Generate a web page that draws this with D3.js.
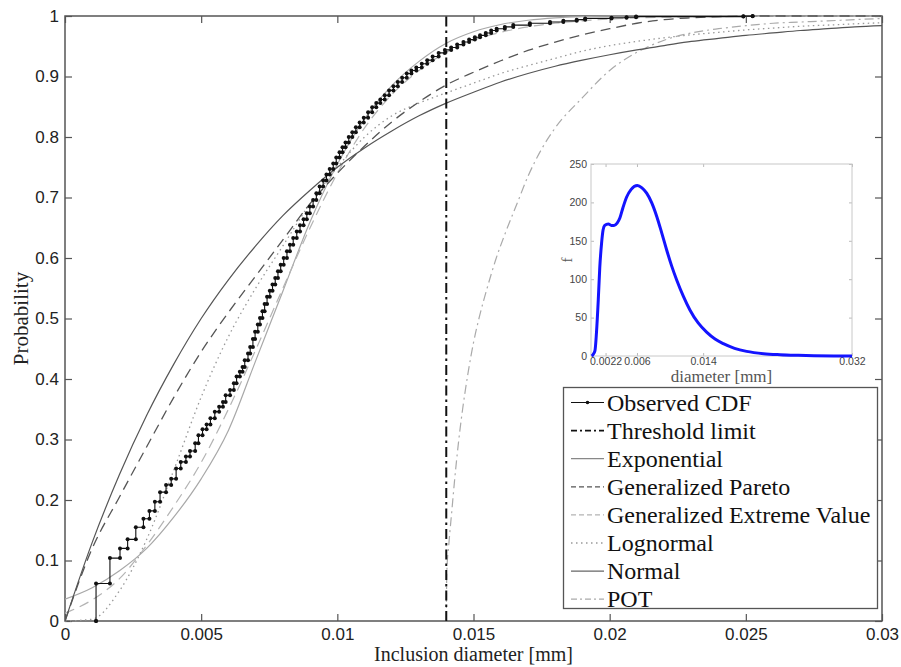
<!DOCTYPE html>
<html>
<head>
<meta charset="utf-8">
<script src="https://cdn.jsdelivr.net/npm/d3@7"></script>
<style>
  body { margin: 0; background: #fff; }
  svg { display: block; }
</style>
</head>
<body>
<svg id="chart" width="901" height="667"></svg>
<script>
const gridX = [0, 0.001, 0.002, 0.003, 0.004, 0.005, 0.006, 0.007, 0.008, 0.009,
  0.01, 0.011, 0.012, 0.013, 0.014, 0.015, 0.016, 0.017, 0.018, 0.019, 0.02,
  0.021, 0.022, 0.023, 0.024, 0.025, 0.026, 0.027, 0.028, 0.029, 0.03];

const exponential = [0, 0.13, 0.242, 0.34, 0.425, 0.5, 0.564, 0.62, 0.67, 0.712,
  0.75, 0.782, 0.81, 0.835, 0.856, 0.874, 0.891, 0.905, 0.917, 0.927, 0.936,
  0.944, 0.951, 0.958, 0.963, 0.968, 0.972, 0.976, 0.979, 0.982, 0.984];
const genPareto = [0, 0.12, 0.205, 0.288, 0.37, 0.445, 0.51, 0.57, 0.63, 0.69,
  0.74, 0.785, 0.825, 0.858, 0.886, 0.907, 0.926, 0.943, 0.957, 0.969, 0.979,
  0.988, 0.994, 0.997, 0.999, 1, 1, 1, 1, 1, 1];
const genExtreme = [0.013, 0.035, 0.07, 0.125, 0.19, 0.262, 0.35, 0.448, 0.55, 0.65,
  0.74, 0.815, 0.87, 0.91, 0.94, 0.96, 0.973, 0.982, 0.988, 0.992, 0.995,
  0.997, 0.998, 0.9985, 0.999, 0.9993, 0.9995, 0.9996, 0.9997, 0.9998, 0.9998];
const lognormal = [0, 0.003, 0.05, 0.135, 0.25, 0.37, 0.47, 0.55, 0.62, 0.69,
  0.75, 0.8, 0.835, 0.856, 0.873, 0.889, 0.905, 0.918, 0.93, 0.942, 0.951,
  0.958, 0.964, 0.969, 0.973, 0.977, 0.98, 0.983, 0.985, 0.987, 0.989];
const normal = [0.036, 0.055, 0.083, 0.12, 0.172, 0.235, 0.315, 0.43, 0.545, 0.66,
  0.755, 0.83, 0.885, 0.925, 0.955, 0.974, 0.986, 0.993, 0.997, 0.999, 1,
  1, 1, 1, 1, 1, 1, 1, 1, 1, 1];

// POT only exists above the threshold
const potX = [0.014, 0.01402, 0.0141, 0.0142, 0.0143, 0.0144, 0.0145, 0.0146,
  0.0148, 0.015, 0.0152, 0.0155, 0.0158, 0.0162, 0.0166, 0.017, 0.0175, 0.018,
  0.019, 0.02, 0.021, 0.022, 0.023, 0.024, 0.025, 0.026, 0.027, 0.028, 0.029, 0.03];
const potF = [0, 0.08, 0.13, 0.18, 0.23, 0.275, 0.315, 0.35, 0.41, 0.46, 0.5,
  0.55, 0.595, 0.645, 0.69, 0.735, 0.78, 0.815, 0.865, 0.91, 0.94, 0.96, 0.972,
  0.979, 0.984, 0.988, 0.99, 0.992, 0.994, 0.996];

const threshold = 0.014;

// observed empirical CDF (steps)
const obsX = [0.00114, 0.00114, 0.00165, 0.00202, 0.0023, 0.0026, 0.00288, 0.0031,
  0.0033, 0.00349, 0.00371, 0.0039, 0.00408, 0.00425, 0.00444, 0.00459, 0.00478,
  0.0049, 0.00505, 0.0052, 0.00534, 0.0055, 0.00566, 0.0058, 0.0059, 0.00606,
  0.0062, 0.0063, 0.00642, 0.00652, 0.0066, 0.00672, 0.0068, 0.0069, 0.00698,
  0.00708, 0.00716, 0.00725, 0.00733, 0.00742, 0.00752, 0.00762, 0.00772, 0.00782,
  0.00792, 0.00803, 0.00815, 0.00826, 0.00838, 0.00851, 0.00863, 0.00876, 0.00888,
  0.00899, 0.00911, 0.00923, 0.00935, 0.00948, 0.0096, 0.00972, 0.00985, 0.00996,
  0.01008, 0.01019, 0.0103, 0.01042, 0.01055, 0.01068, 0.01082, 0.01097, 0.01113,
  0.01128, 0.01143, 0.01158, 0.01174, 0.0119, 0.01206, 0.01222, 0.01238, 0.01255,
  0.01272, 0.0129, 0.0131, 0.0133, 0.0135, 0.01372, 0.01395, 0.01418, 0.0144,
  0.01463, 0.01484, 0.01505, 0.01524, 0.01545, 0.01565, 0.01585, 0.01615, 0.01646,
  0.01707, 0.01781, 0.0183, 0.01879, 0.0191, 0.02007, 0.02062, 0.02097, 0.02491, 0.02525];
const obsF = [0, 0.062, 0.104, 0.12, 0.135, 0.155, 0.169, 0.182, 0.197, 0.213,
  0.225, 0.235, 0.252, 0.263, 0.272, 0.281, 0.294, 0.307, 0.317, 0.325, 0.335,
  0.346, 0.354, 0.362, 0.373, 0.382, 0.393, 0.404, 0.412, 0.42, 0.431, 0.442,
  0.453, 0.466, 0.478, 0.49, 0.501, 0.512, 0.524, 0.536, 0.546, 0.556, 0.567,
  0.578, 0.589, 0.6, 0.611, 0.622, 0.633, 0.644, 0.654, 0.664, 0.674, 0.685,
  0.696, 0.707, 0.718, 0.728, 0.738, 0.747, 0.756, 0.766, 0.775, 0.783, 0.791,
  0.8, 0.808, 0.816, 0.824, 0.832, 0.841, 0.849, 0.856, 0.862, 0.869, 0.877,
  0.884, 0.891, 0.898, 0.905, 0.91, 0.915, 0.921, 0.927, 0.933, 0.939, 0.944,
  0.948, 0.953, 0.957, 0.961, 0.965, 0.968, 0.972, 0.976, 0.979, 0.982, 0.985,
  0.988, 0.99, 0.992, 0.994, 0.996, 0.997, 0.998, 0.999, 0.9995, 1];

// inset: density of inclusion diameter
const pdfX = [0.00052, 0.0007, 0.00092, 0.0011, 0.00132, 0.0015, 0.00172, 0.0019,
  0.0021, 0.00253, 0.0029, 0.00322, 0.0036, 0.00394, 0.0043, 0.00475, 0.0053,
  0.00604, 0.0066, 0.00717, 0.0078, 0.00838, 0.009, 0.00959, 0.0102, 0.0108,
  0.0116, 0.0124, 0.0134, 0.01442, 0.01544, 0.01644, 0.0178, 0.01926, 0.0213,
  0.0233, 0.0255, 0.0274, 0.0298, 0.032];
const pdfY = [0, 2, 7, 30, 73, 115, 147, 164, 170, 172, 170, 170, 173, 180, 193,
  207, 217, 222, 219, 212, 199, 182, 160, 138, 117, 99, 78, 60, 43, 31, 22, 16,
  10, 6, 3, 1.7, 0.9, 0.4, 0.1, 0];

const xTicks = [0, 0.005, 0.01, 0.015, 0.02, 0.025, 0.03];
const yTicks = [0, 0.1, 0.2, 0.3, 0.4, 0.5, 0.6, 0.7, 0.8, 0.9, 1];
const insetXTicks = [0.0022, 0.006, 0.014, 0.032];
const insetYTicks = [0, 50, 100, 150, 200, 250];

const legendNames = ["Observed CDF", "Threshold limit", "Exponential",
  "Generalized Pareto", "Generalized Extreme Value", "Lognormal", "Normal", "POT"];

// ---------------------------------------------------------------
const plot = { left: 65, right: 882, top: 16, bottom: 621 };
const inset = { left: 591, right: 852, top: 164, bottom: 356 };
const serif = "'Liberation Serif', 'DejaVu Serif', serif";
const sans = "'Liberation Sans', Arial, sans-serif";

const styles = {
  exponential: { stroke: "#555", dash: null, width: 1.2 },
  genPareto: { stroke: "#555", dash: "10,6", width: 1.3 },
  genExtreme: { stroke: "#b4b4b4", dash: "10,6", width: 1.2 },
  lognormal: { stroke: "#999", dash: "1.5,3.5", width: 1.3 },
  normal: { stroke: "#a8a8a8", dash: null, width: 1.2 },
  pot: { stroke: "#aaa", dash: "9,4,2,4", width: 1.2 },
  threshold: { stroke: "#111", dash: "10,4,2.5,4", width: 2 },
};

const svg = d3.select("#chart");
svg.append("rect").attr("width", 901).attr("height", 667).attr("fill", "#fff");

const x = d3.scaleLinear().domain([0, 0.03]).range([plot.left, plot.right]);
const y = d3.scaleLinear().domain([0, 1]).range([plot.bottom, plot.top]);

svg
  .append("defs")
  .append("clipPath")
  .attr("id", "plot-clip")
  .append("rect")
  .attr("x", plot.left)
  .attr("y", plot.top - 2)
  .attr("width", plot.right - plot.left)
  .attr("height", plot.bottom - plot.top + 4);

const fmt = (d) => (d === 0 ? "0" : String(+d.toFixed(3)));

const styleAxis = (g) => {
  g.select(".domain").remove();
  g.selectAll("line").attr("stroke", "#555").attr("stroke-width", 1.2);
  g.selectAll("text").attr("fill", "#222").style("font-family", sans).style("font-size", "17px");
};

svg
  .append("g")
  .attr("transform", "translate(0," + plot.bottom + ")")
  .call(d3.axisBottom(x).tickValues(xTicks).tickFormat(fmt).tickSizeInner(-7).tickSizeOuter(0).tickPadding(7))
  .call(styleAxis);
svg
  .append("g")
  .attr("transform", "translate(0," + plot.top + ")")
  .call(d3.axisTop(x).tickValues(xTicks).tickFormat("").tickSizeInner(-7).tickSizeOuter(0))
  .call(styleAxis);
svg
  .append("g")
  .attr("transform", "translate(" + plot.left + ",0)")
  .call(d3.axisLeft(y).tickValues(yTicks).tickFormat(fmt).tickSizeInner(-7).tickSizeOuter(0).tickPadding(6))
  .call(styleAxis);
svg
  .append("g")
  .attr("transform", "translate(" + plot.right + ",0)")
  .call(d3.axisRight(y).tickValues(yTicks).tickFormat("").tickSizeInner(-7).tickSizeOuter(0))
  .call(styleAxis);

svg
  .append("rect")
  .attr("x", plot.left)
  .attr("y", plot.top)
  .attr("width", plot.right - plot.left)
  .attr("height", plot.bottom - plot.top)
  .attr("fill", "none")
  .attr("stroke", "#555")
  .attr("stroke-width", 1.5);

// axis titles
svg
  .append("text")
  .attr("x", (plot.left + plot.right) / 2)
  .attr("y", 661)
  .attr("text-anchor", "middle")
  .style("font-family", serif)
  .style("font-size", "20px")
  .attr("fill", "#222")
  .text("Inclusion diameter [mm]");
svg
  .append("text")
  .attr("transform", "translate(28," + (plot.top + plot.bottom) / 2 + ") rotate(-90)")
  .attr("text-anchor", "middle")
  .style("font-family", serif)
  .style("font-size", "21px")
  .attr("fill", "#222")
  .text("Probability");

// curves
const curves = svg.append("g").attr("clip-path", "url(#plot-clip)");

const drawCurve = (xs, ys, st) =>
  curves
    .append("path")
    .datum(xs.map((v, i) => [v, ys[i]]))
    .attr("fill", "none")
    .attr("stroke", st.stroke)
    .attr("stroke-width", st.width)
    .attr("stroke-dasharray", st.dash)
    .attr(
      "d",
      d3
        .line()
        .x((d) => x(d[0]))
        .y((d) => y(d[1]))
        .curve(d3.curveMonotoneX)
    );

drawCurve(gridX, normal, styles.normal);
drawCurve(gridX, genExtreme, styles.genExtreme);
drawCurve(gridX, lognormal, styles.lognormal);
drawCurve(potX, potF, styles.pot);
drawCurve(gridX, genPareto, styles.genPareto);
drawCurve(gridX, exponential, styles.exponential);

curves
  .append("line")
  .attr("x1", x(threshold))
  .attr("x2", x(threshold))
  .attr("y1", y(0))
  .attr("y2", y(1))
  .attr("stroke", styles.threshold.stroke)
  .attr("stroke-width", styles.threshold.width)
  .attr("stroke-dasharray", styles.threshold.dash);

// observed CDF as stairs, with a marker at every corner
const stairs = [];
obsX.forEach((v, i) => {
  stairs.push([v, obsF[i]]);
  if (i < obsX.length - 1) stairs.push([obsX[i + 1], obsF[i]]);
});
curves
  .append("path")
  .datum(stairs)
  .attr("fill", "none")
  .attr("stroke", "#111")
  .attr("stroke-width", 1.1)
  .attr(
    "d",
    d3
      .line()
      .x((d) => x(d[0]))
      .y((d) => y(d[1]))
  );
curves
  .selectAll(".obs-dot")
  .data(stairs)
  .enter()
  .append("circle")
  .attr("class", "obs-dot")
  .attr("cx", (d) => x(d[0]))
  .attr("cy", (d) => y(d[1]))
  .attr("r", 2)
  .attr("fill", "#111");

// ---------------- inset ----------------
const ix = d3.scaleLinear().domain([0.00044, 0.032]).range([inset.left, inset.right]);
const iy = d3.scaleLinear().domain([0, 250]).range([inset.bottom, inset.top]);

const ins = svg.append("g");
ins
  .append("rect")
  .attr("x", inset.left)
  .attr("y", inset.top)
  .attr("width", inset.right - inset.left)
  .attr("height", inset.bottom - inset.top)
  .attr("fill", "#fff");

const styleInsetAxis = (g) => {
  g.select(".domain").remove();
  g.selectAll("line").attr("stroke", "#bbb");
  g.selectAll("text").attr("fill", "#444").style("font-family", sans).style("font-size", "10.5px");
};
ins
  .append("g")
  .attr("transform", "translate(0," + inset.bottom + ")")
  .call(d3.axisBottom(ix).tickValues(insetXTicks).tickFormat((d) => String(d)).tickSizeInner(-3).tickSizeOuter(0).tickPadding(2))
  .call(styleInsetAxis);
ins
  .append("g")
  .attr("transform", "translate(0," + inset.top + ")")
  .call(d3.axisTop(ix).tickValues(insetXTicks).tickFormat("").tickSizeInner(-3).tickSizeOuter(0))
  .call(styleInsetAxis);
ins
  .append("g")
  .attr("transform", "translate(" + inset.left + ",0)")
  .call(d3.axisLeft(iy).tickValues(insetYTicks).tickSizeInner(-3).tickSizeOuter(0).tickPadding(4))
  .call(styleInsetAxis);
ins
  .append("g")
  .attr("transform", "translate(" + inset.right + ",0)")
  .call(d3.axisRight(iy).tickValues(insetYTicks).tickFormat("").tickSizeInner(-3).tickSizeOuter(0))
  .call(styleInsetAxis);
ins
  .append("rect")
  .attr("x", inset.left)
  .attr("y", inset.top)
  .attr("width", inset.right - inset.left)
  .attr("height", inset.bottom - inset.top)
  .attr("fill", "none")
  .attr("stroke", "#c8c8c8");

ins
  .append("path")
  .datum(pdfX.map((v, i) => [v, pdfY[i]]))
  .attr("fill", "none")
  .attr("stroke", "#1414ff")
  .attr("stroke-width", 3)
  .attr("stroke-linejoin", "round")
  .attr(
    "d",
    d3
      .line()
      .x((d) => ix(d[0]))
      .y((d) => iy(d[1]))
      .curve(d3.curveMonotoneX)
  );

ins
  .append("text")
  .attr("x", (inset.left + inset.right) / 2)
  .attr("y", 382)
  .attr("text-anchor", "middle")
  .style("font-family", serif)
  .style("font-size", "17px")
  .attr("fill", "#555")
  .text("diameter [mm]");
ins
  .append("text")
  .attr("transform", "translate(572," + (inset.top + inset.bottom) / 2 + ") rotate(-90)")
  .attr("text-anchor", "middle")
  .style("font-family", serif)
  .style("font-size", "15px")
  .attr("fill", "#555")
  .text("f");

// ---------------- legend ----------------
const legend = svg.append("g");
legend
  .append("rect")
  .attr("x", 563.5)
  .attr("y", 387.5)
  .attr("width", 314)
  .attr("height", 221)
  .attr("fill", "#fff")
  .attr("stroke", "#555")
  .attr("stroke-width", 1.3);

const legendStyles = [
  { stroke: "#111", dash: null, width: 1.1 },
  { stroke: "#111", dash: "6,3,2,3", width: 1.6 },
  { stroke: "#888", dash: null, width: 1.3 },
  { stroke: "#555", dash: "5,3", width: 1.3 },
  { stroke: "#b4b4b4", dash: "5,3", width: 1.2 },
  styles.lognormal,
  { stroke: "#666", dash: null, width: 1.3 },
  { stroke: "#aaa", dash: "6,3,2,3", width: 1.2 },
];
const rowY = (i) => 402.5 + i * 28.1;

legendNames.forEach((name, i) => {
  const st = legendStyles[i];
  legend
    .append("line")
    .attr("x1", 571)
    .attr("x2", 604)
    .attr("y1", rowY(i))
    .attr("y2", rowY(i))
    .attr("stroke", st.stroke)
    .attr("stroke-width", st.width)
    .attr("stroke-dasharray", st.dash);
  if (i === 0) {
    legend.append("circle").attr("cx", 587.5).attr("cy", rowY(i)).attr("r", 1.8).attr("fill", "#111");
  }
  legend
    .append("text")
    .attr("x", 607)
    .attr("y", rowY(i))
    .attr("dy", "0.34em")
    .style("font-family", serif)
    .style("font-size", "24px")
    .attr("fill", "#111")
    .text(name);
});
</script>
</body>
</html>
